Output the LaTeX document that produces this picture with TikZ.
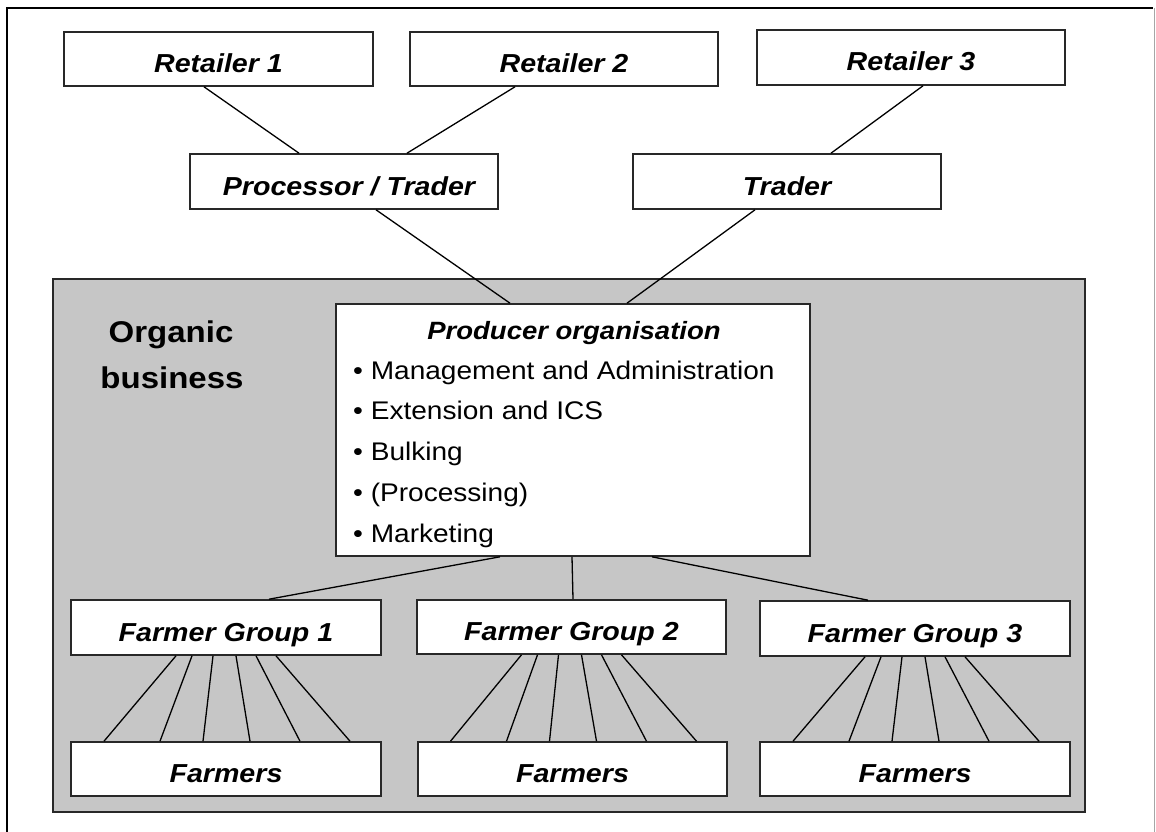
\documentclass[tikz,border=0pt]{standalone}
\usepackage{fontspec}
\setmainfont{Liberation Sans}[FakeStretch=1.1]
\definecolor{bizgray}{RGB}{198,198,198}
\definecolor{edgegray}{RGB}{40,40,40}
\newcommand\lblfont{\fontsize{26}{30}\selectfont\bfseries\itshape}
\newcommand\listfont{\fontsize{25.5}{30}\selectfont}
\tikzset{
  boxnode/.style={draw=edgegray, fill=white, line width=1.6pt, inner sep=0pt,
    minimum width=309pt, minimum height=54pt, font=\lblfont,
    text height=27pt, text depth=0pt},
  link/.style={line width=1.3pt, black},
  listitem/.style={anchor=base west, inner sep=0pt, font=\listfont},
}
\begin{document}
\begin{tikzpicture}[x=1pt, y=-1pt]
\useasboundingbox (0,0) rectangle (1156,832);
% outer frame
\draw[line width=2.6pt, black] (7,840) -- (7,8) -- (1153,8);
\draw[line width=0.8pt, black!35] (1154,8) -- (1154,840);
% organic business area
\node[draw=edgegray, fill=bizgray, line width=1.6pt, inner sep=0pt,
  minimum width=1032pt, minimum height=533pt] (biz) at (569,545.5) {};
\node[anchor=base, inner sep=0pt, font=\fontsize{30}{34}\selectfont\bfseries] (org1) at (171,342) {Organic};
\node[anchor=base, inner sep=0pt, font=\fontsize{30}{34}\selectfont\bfseries] (org2) at (172,388) {business};
% top boxes
\node[boxnode] (r1) at (218.5,59) {Retailer 1};
\node[boxnode, minimum width=308pt] (r2) at (564,59) {Retailer 2};
\node[boxnode, minimum width=308pt, minimum height=55pt] (r3) at (911,57.5) {Retailer 3};
\node[boxnode, minimum width=308pt, minimum height=55pt] (pt) at (344,181.5) {\hspace{10pt}Processor / Trader};
\node[boxnode, minimum width=308pt, minimum height=55pt] (tr) at (787,181.5) {Trader};
% producer organisation
\node[draw=edgegray, fill=white, line width=1.6pt, inner sep=0pt,
  minimum width=474pt, minimum height=252pt] (po) at (573,430) {};
\node[anchor=base, inner sep=0pt, font=\fontsize{25}{30}\selectfont\bfseries\itshape] (poh) at (574,339) {Producer organisation};
\node[listitem] (l1) at (353,379) {\textbullet\ Management and Administration};
\node[listitem] (l2) at (353,419.75) {\textbullet\ Extension and ICS};
\node[listitem] (l3) at (353,460.5) {\textbullet\ Bulking};
\node[listitem] (l4) at (353,501.25) {\textbullet\ (Processing)};
\node[listitem] (l5) at (353,542) {\textbullet\ Marketing};
% farmer groups
\node[boxnode, minimum width=310pt, minimum height=55pt] (fg1) at (226,627.5) {Farmer Group 1};
\node[boxnode] (fg2) at (571.5,627) {Farmer Group 2};
\node[boxnode, minimum width=310pt, minimum height=55pt] (fg3) at (915,628.5) {Farmer Group 3};
\node[boxnode, minimum width=310pt] (fm1) at (226,769) {Farmers};
\node[boxnode] (fm2) at (572.5,769) {Farmers};
\node[boxnode, minimum width=310pt] (fm3) at (915,769) {Farmers};
% connectors
\draw[link] ([xshift=-14.5pt]r1.south) -- ([xshift=-45pt]pt.north);
\draw[link] ([xshift=-49pt]r2.south) -- ([xshift=63pt]pt.north);
\draw[link] ([xshift=12pt]r3.south) -- ([xshift=44pt]tr.north);
\draw[link] ([xshift=32pt]pt.south) -- ([xshift=-63pt]po.north);
\draw[link] ([xshift=-32pt]tr.south) -- ([xshift=54pt]po.north);
\draw[link] ([xshift=-73pt]po.south) -- ([xshift=43pt]fg1.north);
\draw[link] ([xshift=-1pt]po.south) -- ([xshift=1.5pt]fg2.north);
\draw[link] ([xshift=79pt]po.south) -- ([xshift=-47pt]fg3.north);
\foreach \g in {1,2,3}{
  \foreach \a/\b in {-50/-122,-34/-66,-13/-23,10/24,30/74,50/124}{
    \draw[link] ([xshift=\a pt]fg\g.south) -- ([xshift=\b pt]fm\g.north);
  }
}
\end{tikzpicture}
\end{document}
